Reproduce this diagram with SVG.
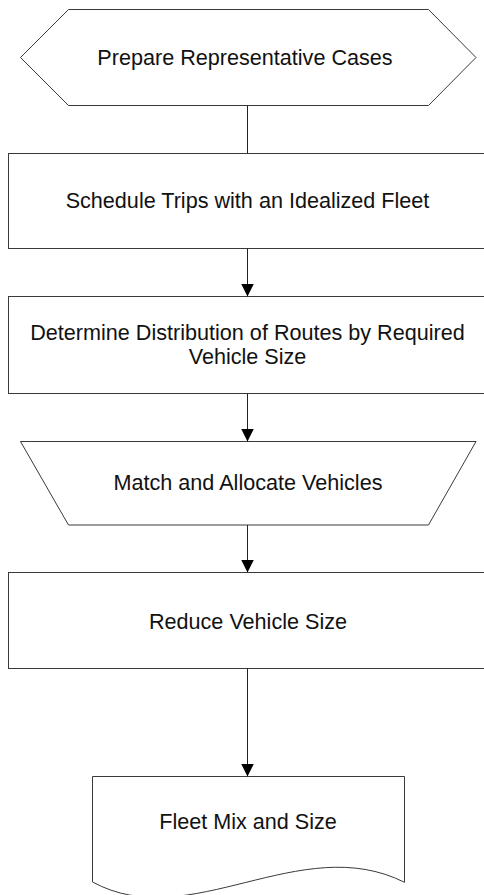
<svg xmlns="http://www.w3.org/2000/svg" width="484" height="895" viewBox="0 0 484 895">
<style>
.s{fill:#fff;stroke:#3a3a3a;stroke-width:1}
.t{font-family:"Liberation Sans",Arial,sans-serif;font-size:21.6px;fill:#111;text-anchor:middle}
.c{stroke:#222;stroke-width:1;fill:none}
</style>
<defs>
<marker id="ah" markerUnits="userSpaceOnUse" markerWidth="14" markerHeight="15" refX="13" refY="6.5" orient="auto" viewBox="0 0 14 13">
<path d="M0,0 L13,6.5 L0,13 Z" fill="#000"/>
</marker>
</defs>
<g id="n1">
<polygon class="s" points="68.5,9.5 428.5,9.5 476,57.5 428.5,105.5 68.5,105.5 20.5,57.5"/>
<text class="t" x="245" y="64.5">Prepare Representative Cases</text>
</g>
<g id="n2">
<rect class="s" x="8.5" y="153.5" width="480" height="95"/>
<text class="t" x="247.5" y="207.5">Schedule Trips with an Idealized Fleet</text>
</g>
<g id="n3">
<rect class="s" x="8.5" y="296.5" width="480" height="97"/>
<text class="t" x="247.5" y="339.5">Determine Distribution of Routes by Required</text>
<text class="t" x="247.5" y="363.5">Vehicle Size</text>
</g>
<g id="n4">
<polygon class="s" points="20.5,441.5 476,441.5 428.5,525 68.5,525"/>
<text class="t" x="248" y="490">Match and Allocate Vehicles</text>
</g>
<g id="n5">
<rect class="s" x="8.5" y="572.5" width="480" height="96"/>
<text class="t" x="248" y="628.5">Reduce Vehicle Size</text>
</g>
<g id="n6">
<path class="s" d="M92.5,776.5 L404.5,776.5 L404.5,882.3 C300,830 190,935 92.5,882 Z"/>
<text class="t" x="248" y="828.5">Fleet Mix and Size</text>
</g>
<g id="connectors">
<line class="c" x1="247.5" y1="105.5" x2="247.5" y2="153.5"/>
<line class="c" x1="247.5" y1="248.5" x2="247.5" y2="296.5" marker-end="url(#ah)"/>
<line class="c" x1="247.5" y1="393.5" x2="247.5" y2="441.5" marker-end="url(#ah)"/>
<line class="c" x1="247.5" y1="525" x2="247.5" y2="572.5" marker-end="url(#ah)"/>
<line class="c" x1="247.5" y1="668.5" x2="247.5" y2="776.5" marker-end="url(#ah)"/>
</g>
</svg>
